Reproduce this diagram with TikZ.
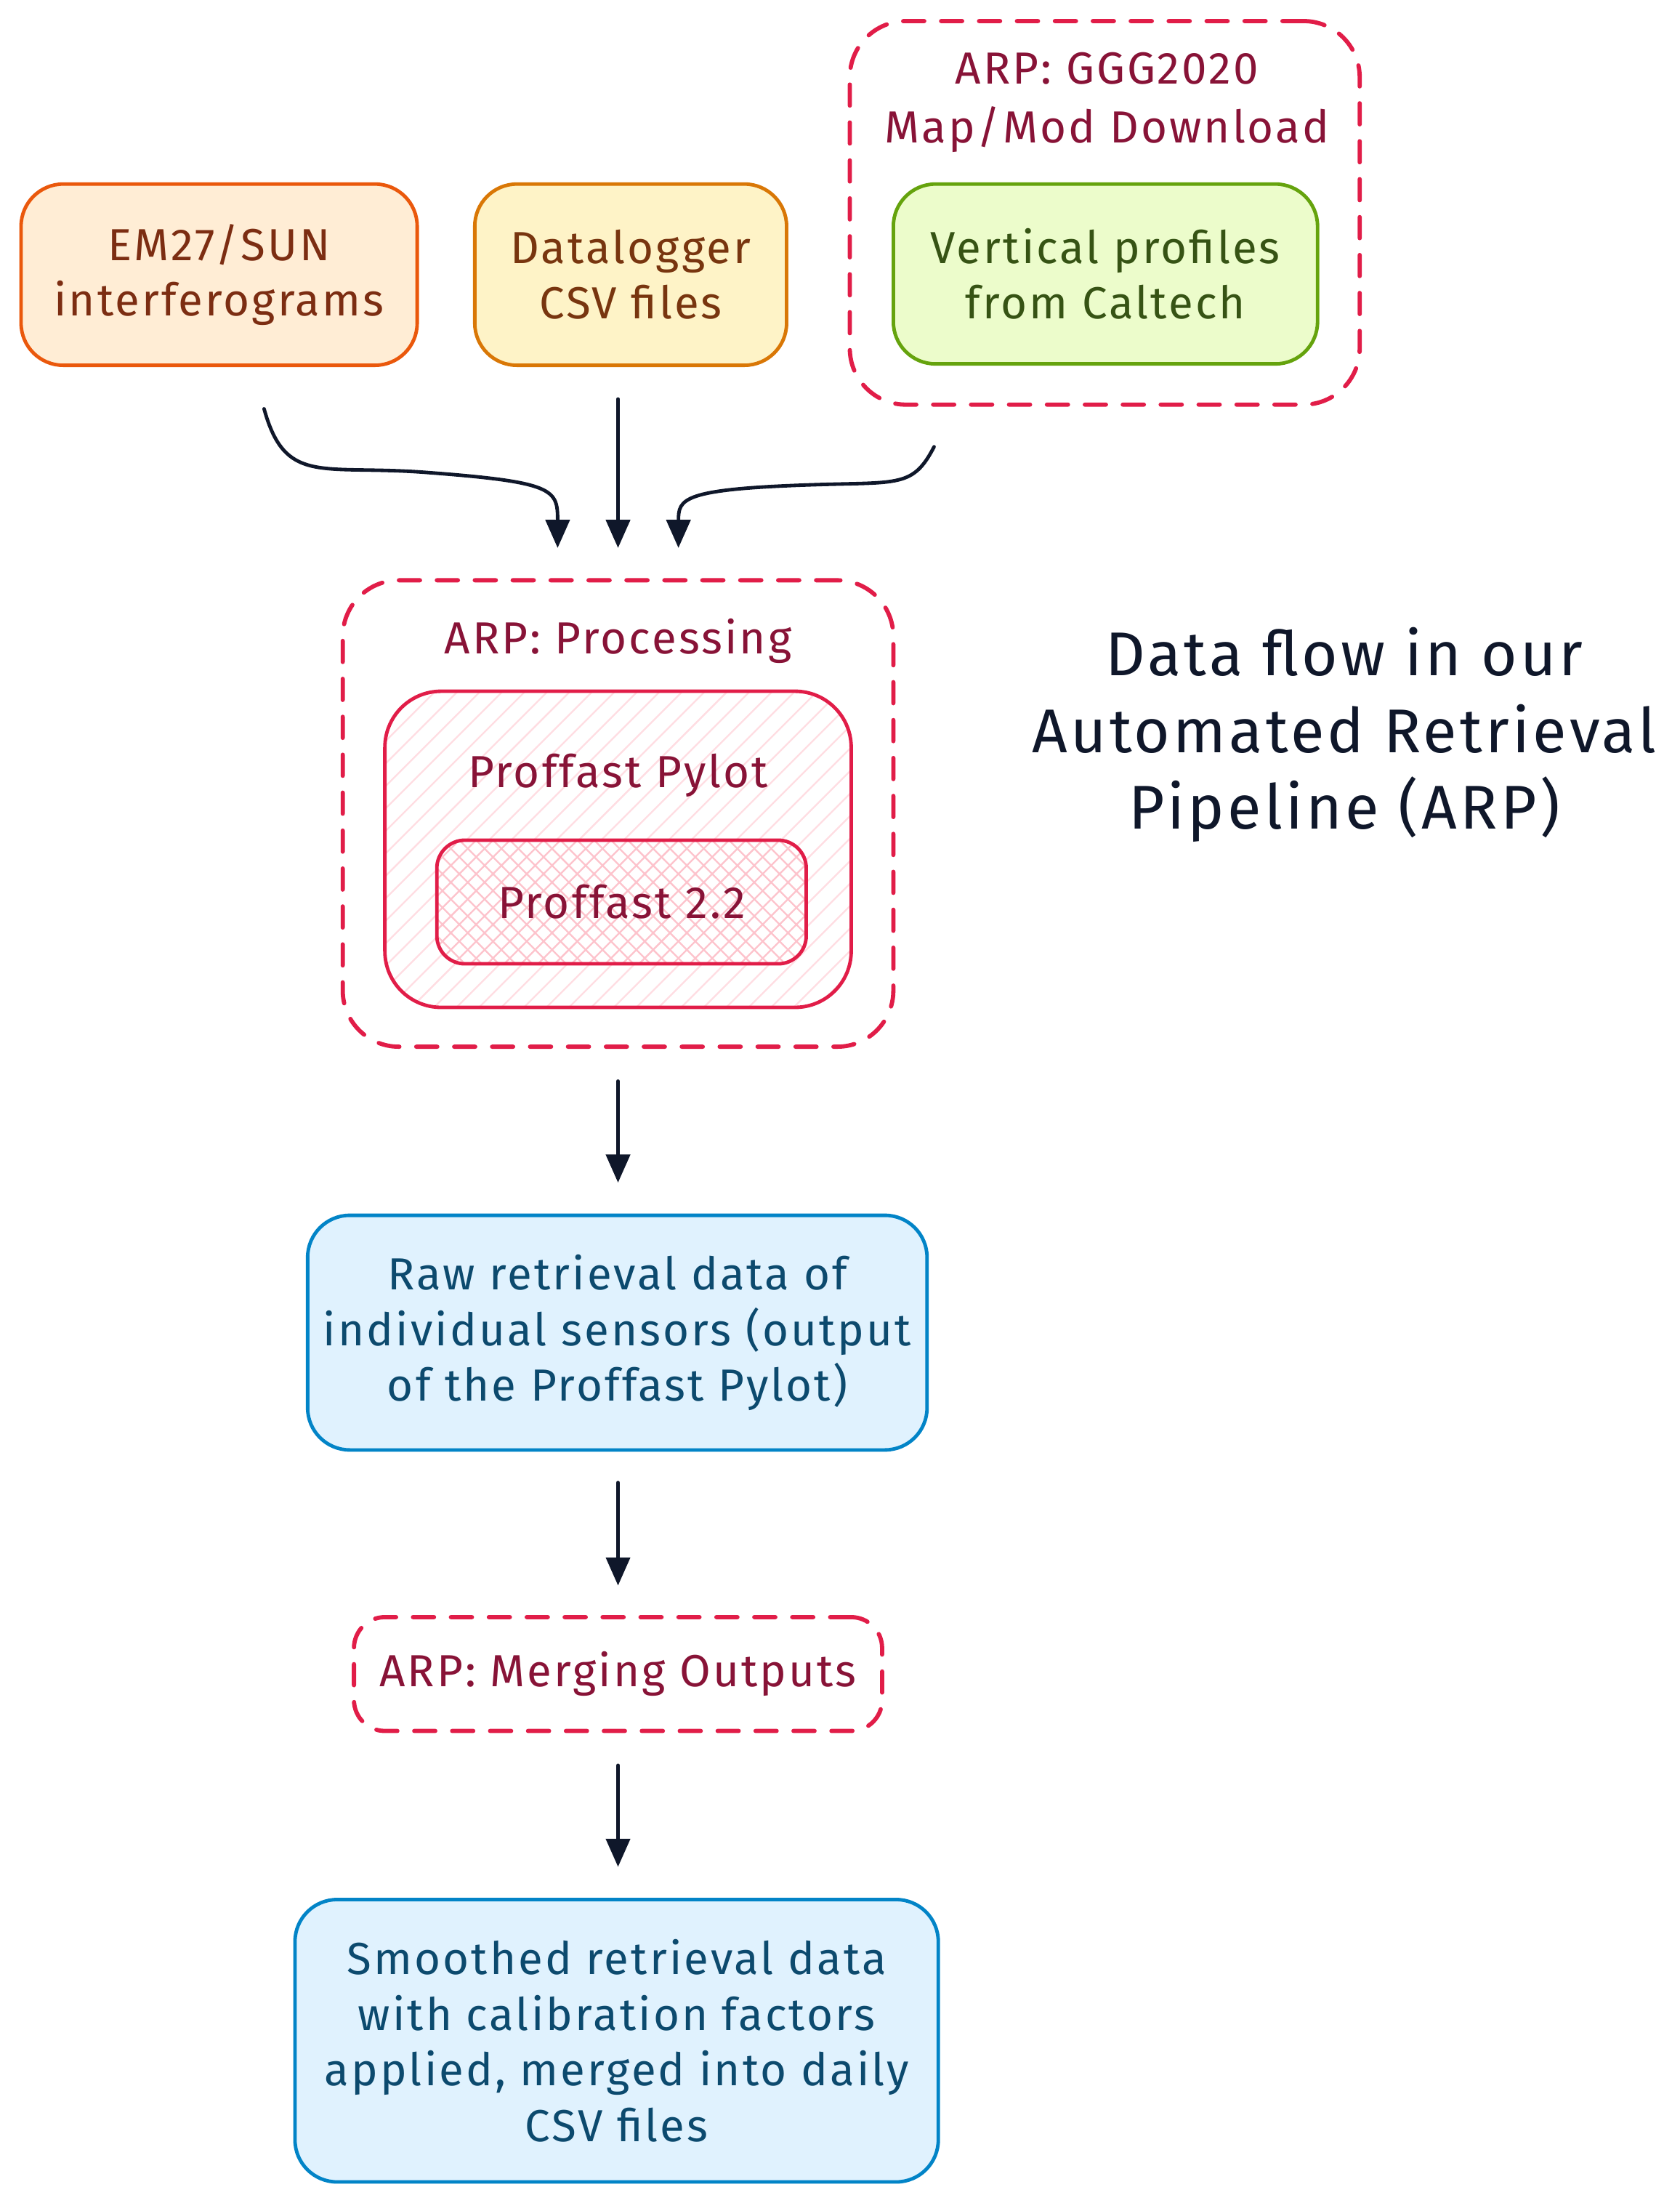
\documentclass[tikz,border=0pt]{standalone}
\usepackage{fontspec}
\setmainfont{Fira Sans}[LetterSpace=5]
\usetikzlibrary{arrows.meta}
\definecolor{orS}{HTML}{EA580C}
\definecolor{orF}{HTML}{FFEDD5}
\definecolor{orT}{HTML}{7C2D12}
\definecolor{amS}{HTML}{D97706}
\definecolor{amF}{HTML}{FEF3C7}
\definecolor{amT}{HTML}{78350F}
\definecolor{grS}{HTML}{65A30D}
\definecolor{grF}{HTML}{ECFCCB}
\definecolor{grT}{HTML}{365314}
\definecolor{roS}{HTML}{E11D48}
\definecolor{roT}{HTML}{881337}
\definecolor{roH}{HTML}{FFDDE2}
\definecolor{roX}{HTML}{FDC3CC}
\definecolor{blS}{HTML}{0284C7}
\definecolor{blF}{HTML}{E0F2FE}
\definecolor{blT}{HTML}{0C4A6E}
\definecolor{ink}{HTML}{0F172A}
\begin{document}
\begin{tikzpicture}[x=1pt,y=-1pt,
  box/.style={rounded corners=30pt, line width=2.5pt, align=center, inner sep=0pt,
    font=\fontsize{32}{39.5}\selectfont},
  dbox/.style={draw=roS, line width=3pt, dash pattern=on 15pt off 12pt, line cap=round,
    rounded corners=40pt, inner sep=0pt},
  ttl/.style={align=center, text=roT, font=\fontsize{32}{42}\selectfont, inner sep=0pt},
  flow/.style={draw=ink, line width=2.5pt, line cap=round, -{Triangle[length=20pt,width=17pt]}},
  hatchA/.style={draw=roH, line width=1.2pt},
  hatchB/.style={draw=roX, line width=1.2pt},
]
\useasboundingbox (0,0) rectangle (1196,1568);

% top sources
\node[box, draw=orS, fill=orF, text=orT, minimum width=282pt, minimum height=129pt] (em) at (156,195.5) {EM27/SUN\\interferograms};
\node[box, draw=amS, fill=amF, text=amT, minimum width=222pt, minimum height=129pt] (dl) at (449,195.5) {Datalogger\\CSV files};
\node[dbox, minimum width=363pt, minimum height=273pt] (ggg) at (786.5,151.5) {};
\node[ttl] (gggt) at (788,73) {ARP: GGG2020\\Map/Mod Download};
\node[box, draw=grS, fill=grF, text=grT, minimum width=302pt, minimum height=128pt] (vp) at (787,195) {Vertical profiles\\from Caltech};

% processing
\node[dbox, minimum width=392pt, minimum height=332pt] (proc) at (440,579) {};
\node[ttl] (proct) at (440,456) {ARP: Processing};
\begin{scope}
  \clip[rounded corners=40pt] (274,492) rectangle (606,717);
  \foreach \i in {0,16,...,576} { \draw[hatchA] ({274-240+\i},720) -- ++(240,-240); }
\end{scope}
\node[box, draw=roS, minimum width=332pt, minimum height=225pt, rounded corners=40pt] (pyl) at (440,604.5) {};
\node[ttl] (pylt) at (440,552) {Proffast Pylot};
\begin{scope}
  \clip[rounded corners=20pt] (311,598) rectangle (574,686);
  \fill[white] (311,598) rectangle (574,686);
  \foreach \i in {0,12,...,372} {
    \draw[hatchB] ({311-100+\i},690) -- ++(100,-100);
    \draw[hatchB] ({311-100+\i},590) -- ++(100,100);
  }
\end{scope}
\node[box, draw=roS, text=roT, minimum width=263pt, minimum height=88pt, rounded corners=20pt] (pf) at (442.5,642) {Proffast 2.2};

% outputs
\node[box, draw=blS, fill=blF, text=blT, minimum width=441pt, minimum height=167pt] (raw) at (439.5,948.5) {Raw retrieval data of\\individual sensors (output\\of the Proffast Pylot)};
\node[dbox, rounded corners=22pt, minimum width=376pt, minimum height=81pt, text=roT, font=\fontsize{32}{39.5}\selectfont] (mrg) at (440,1191.5) {ARP: Merging Outputs};
\node[box, draw=blS, fill=blF, text=blT, minimum width=458pt, minimum height=201pt] (sm) at (439,1452.5) {Smoothed retrieval data\\with calibration factors\\applied, merged into daily\\CSV files};

% title
\node[align=center, text=ink, font=\fontsize{44}{54.5}\selectfont, inner sep=0pt] (title) at (957,523) {Data flow in our\\Automated Retrieval\\Pipeline (ARP)};

% connectors
\coordinate (s1) at (188,291);
\coordinate (e1) at (397,390);
\coordinate (s2) at (440,284);
\coordinate (e2) at (440,390);
\coordinate (s3) at (665,318);
\coordinate (e3) at (483,390);
\draw[flow] (s1) .. controls (203,345) and (228,331) .. (300,336) .. controls (395,343) and (397,348) .. (e1);
\draw[flow] (s2) -- (e2);
\draw[flow] (s3) .. controls (650,347) and (640,343) .. (580,345) .. controls (485,348) and (483,355) .. (e3);
\draw[flow, shorten <=23pt, shorten >=22pt] (proc.south) -- (proc.south |- raw.north);
\draw[flow, shorten <=22pt, shorten >=21pt] (mrg.north |- raw.south) -- (mrg.north);
\draw[flow, shorten <=23pt, shorten >=22pt] (mrg.south) -- (mrg.south |- sm.north);
\end{tikzpicture}
\end{document}
